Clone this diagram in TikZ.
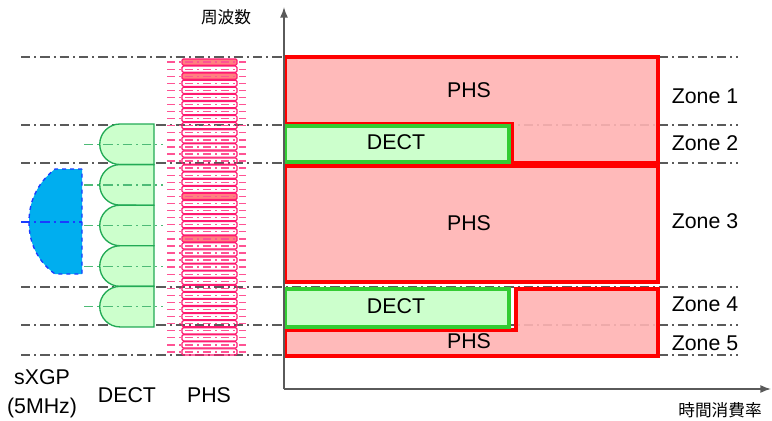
\documentclass[tikz,border=0pt]{standalone}
\usepackage{fontspec}
\setmainfont{Liberation Sans}
\newfontfamily\cjk{Noto Sans CJK JP}
\usetikzlibrary{arrows.meta}
\definecolor{phsfill}{HTML}{FFB3B3}
\definecolor{phsline}{HTML}{FF0000}
\definecolor{dectfill}{HTML}{CCFFCC}
\definecolor{dectline}{HTML}{33CC33}
\definecolor{dectleft}{HTML}{22AA55}
\definecolor{xgpfill}{HTML}{00AEEF}
\definecolor{xgpline}{HTML}{1A3CFF}
\definecolor{chline}{HTML}{FF1A70}
\definecolor{chhot}{HTML}{FF8080}
\definecolor{gridgray}{HTML}{5A5A5A}

\begin{document}
\begin{tikzpicture}[x=0.75pt, y=-0.75pt,
  zoneline/.style={gridgray, line width=1.1pt, dash pattern=on 7pt off 3pt on 1.5pt off 3pt},
  phsbox/.style={fill=phsfill, fill opacity=0.9, draw=phsline, line width=2.8pt},
  dectbox/.style={fill=dectfill, draw=dectline, line width=2.8pt},
  carrier/.style={fill=dectfill, draw=dectleft, line width=1pt},
  phschan/.style={draw=chline, line width=0.9pt},
  lbl/.style={font=\fontsize{16}{18}\selectfont, inner sep=0pt},
  cjklbl/.style={font=\cjk\fontsize{12.5}{14}\selectfont, inner sep=0pt},
  axis/.style={gridgray, line width=1.1pt, -{Latex[length=8pt,width=6pt]}}]
\useasboundingbox (0,0) rectangle (772,421);

% zone boundaries
\foreach \y in {57,125,163,287,325,355}
  \draw[zoneline] (21,\y) -- (738,\y);

% sXGP (5MHz)
\draw[fill=xgpfill, draw=xgpline, dashed, line width=1pt] (82,169) -- (55,169) .. controls (40,181) and (29,198) .. (29,222) .. controls (29,246) and (40,263) .. (55,274) -- (82,274) -- cycle;
\draw[xgpline, line width=0.9pt, dash pattern=on 7pt off 3pt on 1.5pt off 3pt] (21,222) -- (82,222);

% DECT carriers
\foreach \i in {0,...,4} {
  \pgfmathsetmacro\ytop{124+40.6*\i}
  \draw[carrier] (154,\ytop) -- (120,\ytop) arc[start angle=90, end angle=270, radius=15.2pt] -- (154,\ytop+40.6) -- cycle;
  \draw[dectleft!80, line width=0.9pt, dash pattern=on 7pt off 3pt on 1.5pt off 3pt] (84,\ytop+20.3) -- (163,\ytop+20.3);
}

% PHS channels
\foreach \k in {0,2,19,25}
  \fill[chhot] (182,59+7.07*\k) rectangle (237,65.2+7.07*\k);
\foreach \k in {0,...,41} {
  \pgfmathsetmacro\ya{59+7.07*\k}
  \draw[phschan, rounded corners=1pt] (182,\ya) rectangle (237,\ya+6.2);
  \draw[chline!75, line width=1pt, dash pattern=on 6pt off 3pt on 1.5pt off 3pt] (167,\ya+3.1) -- (246,\ya+3.1);
}

% time share per zone
\draw[phsbox] (285,57) -- (658,57) -- (658,163) -- (512,163) -- (512,124) -- (285,124) -- cycle;
\draw[dectbox] (285,126) rectangle (509,162);
\draw[phsbox] (285,166) rectangle (658,282);
\draw[phsbox] (516,289) -- (658,289) -- (658,356) -- (285,356) -- (285,330) -- (516,330) -- cycle;
\draw[dectbox] (285,289) rectangle (509,327);

\node[lbl] (phs1) at (469,90) {PHS};
\node[lbl] (dect2) at (396,142) {DECT};
\node[lbl] (phs3) at (469,223) {PHS};
\node[lbl] (dect4) at (396,306) {DECT};
\node[lbl] (phs5) at (469,341) {PHS};

\node[lbl] (z1) at (705,96) {Zone 1};
\node[lbl] (z2) at (705,143) {Zone 2};
\node[lbl] (z3) at (705,221) {Zone 3};
\node[lbl] (z4) at (705,304) {Zone 4};
\node[lbl] (z5) at (705,343) {Zone 5};

% axes
\coordinate (origin) at (284,389);
\coordinate (ftop) at (284,7);
\coordinate (tend) at (771,389);
\draw[axis] (origin) -- (ftop);
\draw[axis] (origin) -- (tend);
\node[cjklbl] (freq) at (226,17) {周波数};
\node[cjklbl] (tshare) at (720,410) {時間消費率};

% band names
\node[lbl, align=center] (xgp) at (42,394) {sXGP\\[4pt](5MHz)};
\node[lbl] (dectname) at (127,395) {DECT};
\node[lbl] (phsname) at (209,395) {PHS};
\end{tikzpicture}
\end{document}
